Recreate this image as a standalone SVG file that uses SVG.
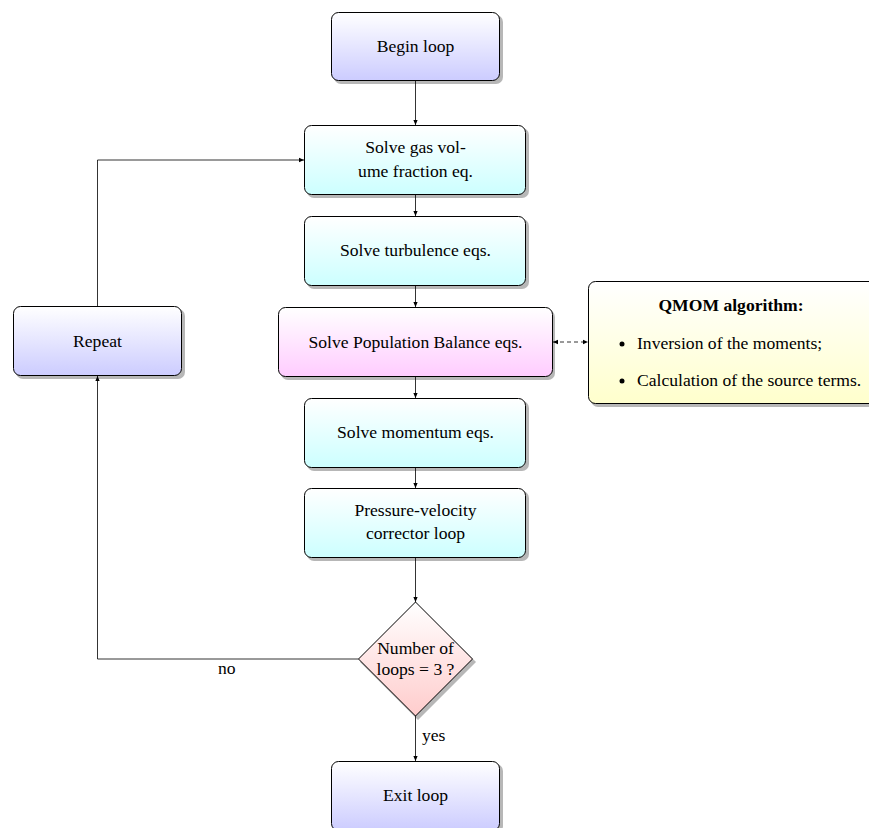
<svg xmlns="http://www.w3.org/2000/svg" width="869" height="828" viewBox="0 0 869 828">
<defs>
<linearGradient id="gBlue" x1="0" y1="0" x2="0" y2="1"><stop offset="0" stop-color="#ffffff"/><stop offset="1" stop-color="#ccccff"/></linearGradient>
<linearGradient id="gCyan" x1="0" y1="0" x2="0" y2="1"><stop offset="0" stop-color="#ffffff"/><stop offset="1" stop-color="#ccffff"/></linearGradient>
<linearGradient id="gPink" x1="0" y1="0" x2="0" y2="1"><stop offset="0" stop-color="#ffffff"/><stop offset="1" stop-color="#ffccff"/></linearGradient>
<linearGradient id="gRed" x1="0" y1="0" x2="0" y2="1"><stop offset="0" stop-color="#ffffff"/><stop offset="1" stop-color="#ffcccc"/></linearGradient>
<linearGradient id="gYel" x1="0" y1="0" x2="0" y2="1"><stop offset="0" stop-color="#ffffff"/><stop offset="1" stop-color="#ffffcc"/></linearGradient>
<marker id="arr" viewBox="0 0 8 8" refX="7" refY="4" markerWidth="6" markerHeight="6" orient="auto-start-reverse" markerUnits="userSpaceOnUse"><path d="M0,1 L7,4 L0,7 Z" fill="#000"/></marker>
</defs>
<style>
text{font-family:"Liberation Serif","Times New Roman",serif;font-size:17.6px;fill:#000;}
.c{text-anchor:middle;}
.b{stroke:#000;stroke-width:1;}
.sh{fill:#999;opacity:0.7;}
.ln{fill:none;stroke:#000;stroke-width:0.8;}
</style>
<rect width="869" height="828" fill="#fff"/>

<g id="begin">
<rect class="sh" x="334" y="15" width="169" height="69" rx="7"/>
<rect class="b" x="331.5" y="12.5" width="168" height="68" rx="7" fill="url(#gBlue)"/>
<text class="c" x="415.5" y="52">Begin loop</text>
</g>
<g id="gas">
<rect class="sh" x="307" y="128" width="222" height="70" rx="7"/>
<rect class="b" x="304.5" y="125.5" width="221" height="69" rx="7" fill="url(#gCyan)"/>
<text class="c" x="415.5" y="153">Solve gas vol-</text>
<text class="c" x="415.5" y="177">ume fraction eq.</text>
</g>
<g id="turb">
<rect class="sh" x="307" y="219" width="222" height="70" rx="7"/>
<rect class="b" x="304.5" y="216.5" width="221" height="69" rx="7" fill="url(#gCyan)"/>
<text class="c" x="415.5" y="256">Solve turbulence eqs.</text>
</g>
<g id="pop">
<rect class="sh" x="281" y="310" width="274" height="70" rx="7"/>
<rect class="b" x="278.5" y="307.5" width="274" height="69" rx="7" fill="url(#gPink)"/>
<text class="c" x="415.5" y="348">Solve Population Balance eqs.</text>
</g>
<g id="mom">
<rect class="sh" x="307" y="401" width="222" height="70" rx="7"/>
<rect class="b" x="304.5" y="398.5" width="221" height="69" rx="7" fill="url(#gCyan)"/>
<text class="c" x="415.5" y="438">Solve momentum eqs.</text>
</g>
<g id="press">
<rect class="sh" x="307" y="491" width="222" height="70" rx="7"/>
<rect class="b" x="304.5" y="488.5" width="221" height="69" rx="7" fill="url(#gCyan)"/>
<text class="c" x="415.5" y="516">Pressure-velocity</text>
<text class="c" x="415.5" y="539">corrector loop</text>
</g>
<g id="decision">
<polygon class="sh" points="418,605 476,662 418,720 360,662"/>
<polygon class="b" points="415.5,602 472.5,659 415.5,716 358.5,659" fill="url(#gRed)"/>
<text class="c" x="415.5" y="654">Number of</text>
<text class="c" x="415.5" y="675">loops = 3 ?</text>
</g>
<g id="exit">
<rect class="sh" x="334" y="764" width="169" height="69" rx="7"/>
<rect class="b" x="331.5" y="761.5" width="168" height="69" rx="7" fill="url(#gBlue)"/>
<text class="c" x="415.5" y="801">Exit loop</text>
</g>
<g id="repeat">
<rect class="sh" x="16" y="309" width="169" height="70" rx="7"/>
<rect class="b" x="13.5" y="306.5" width="168" height="69" rx="7" fill="url(#gBlue)"/>
<text class="c" x="97.5" y="347">Repeat</text>
</g>
<g id="qmom">
<rect class="sh" x="591" y="284" width="290" height="123" rx="7"/>
<rect class="b" x="588.5" y="281.5" width="290" height="122" rx="7" fill="url(#gYel)"/>
<text class="c" x="731" y="311" font-weight="bold">QMOM algorithm:</text>
<circle cx="622" cy="344" r="2.5" fill="#000"/>
<text x="637" y="349">Inversion of the moments;</text>
<circle cx="622" cy="381" r="2.5" fill="#000"/>
<text x="637" y="386">Calculation of the source terms.</text>
</g>

<g id="connectors">
<line class="ln" x1="415.5" y1="81" x2="415.5" y2="125" marker-end="url(#arr)"/>
<line class="ln" x1="415.5" y1="195" x2="415.5" y2="216" marker-end="url(#arr)"/>
<line class="ln" x1="415.5" y1="286" x2="415.5" y2="307" marker-end="url(#arr)"/>
<line class="ln" x1="415.5" y1="377" x2="415.5" y2="398" marker-end="url(#arr)"/>
<line class="ln" x1="415.5" y1="468" x2="415.5" y2="488" marker-end="url(#arr)"/>
<line class="ln" x1="415.5" y1="558" x2="415.5" y2="602" marker-end="url(#arr)"/>
<line class="ln" x1="415.5" y1="716" x2="415.5" y2="761" marker-end="url(#arr)"/>
<polyline class="ln" points="358.5,659 97.5,659 97.5,376" marker-end="url(#arr)"/>
<polyline class="ln" points="97.5,306 97.5,160 304,160" marker-end="url(#arr)"/>
<line class="ln" x1="553" y1="342" x2="588" y2="342" stroke-dasharray="4,3" marker-start="url(#arr)" marker-end="url(#arr)"/>
<text x="218" y="674">no</text>
<text x="422" y="741">yes</text>
</g>
</svg>
